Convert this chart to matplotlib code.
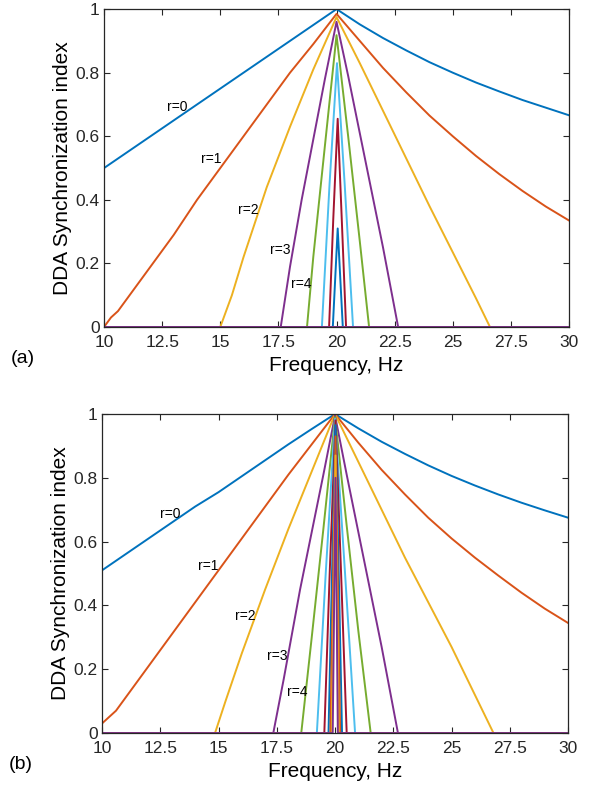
import matplotlib
matplotlib.use("Agg")
import matplotlib.pyplot as plt

plt.rcParams['font.family'] = ['Liberation Sans', 'DejaVu Sans']

# MATLAB default line colours, cycled
COLORS = ['#0072BD', '#D95319', '#EDB120', '#7E2F8E', '#77AC30', '#4DBEEE', '#A2142F']

x_ticks = [10, 12.5, 15, 17.5, 20, 22.5, 25, 27.5, 30]
x_tick_labels = ['10', '12.5', '15', '17.5', '20', '22.5', '25', '27.5', '30']
y_ticks = [0, 0.2, 0.4, 0.6, 0.8, 1]
y_tick_labels = ['0', '0.2', '0.4', '0.6', '0.8', '1']

# ---- panel (a) ----
a_r0_f = [10, 11, 12, 13, 14, 15, 16, 17, 18, 19, 20, 21, 22, 23, 24, 25, 26, 27, 28, 29, 30]
a_r0_y = [0.50, 0.55, 0.60, 0.65, 0.70, 0.75, 0.80, 0.85, 0.90, 0.95, 1.00,
          0.952, 0.909, 0.870, 0.833, 0.800, 0.769, 0.741, 0.714, 0.690, 0.666]
a_r1_f = [10, 10.3, 10.6, 11, 12, 13, 14, 15, 16, 17, 18, 19, 20,
          21, 22, 23, 24, 25, 26, 27, 28, 29, 30]
a_r1_y = [0.0, 0.03, 0.05, 0.09, 0.19, 0.29, 0.40, 0.50, 0.60, 0.70, 0.80, 0.89, 0.985,
          0.90, 0.815, 0.738, 0.665, 0.60, 0.538, 0.481, 0.428, 0.379, 0.335]
a_r2_f = [10, 15.0, 15.5, 16, 17, 18, 19, 20, 21, 22, 23, 24, 25, 26, 26.6, 30]
a_r2_y = [0, 0, 0.10, 0.22, 0.44, 0.63, 0.81, 0.975, 0.83, 0.68, 0.53, 0.38, 0.235, 0.09, 0, 0]
a_r3_f = [10, 17.6, 18, 18.5, 19, 19.5, 20, 20.5, 21, 21.5, 22, 22.65, 30]
a_r3_y = [0, 0, 0.19, 0.40, 0.59, 0.78, 0.96, 0.79, 0.61, 0.43, 0.25, 0, 0]
a_r4_f = [10, 18.73, 19.0, 19.5, 20, 20.5, 21, 21.4, 30]
a_r4_y = [0, 0, 0.22, 0.57, 0.918, 0.60, 0.27, 0, 0]
a_r5_f = [10, 19.37, 19.7, 20.02, 20.35, 20.71, 30]
a_r5_y = [0, 0, 0.45, 0.83, 0.45, 0, 0]
a_r6_f = [10, 19.68, 19.86, 20.05, 20.23, 20.41, 30]
a_r6_y = [0, 0, 0.34, 0.655, 0.33, 0, 0]
a_r7_f = [10, 19.84, 20.05, 20.27, 30]
a_r7_y = [0, 0, 0.31, 0, 0]
a_r8_f = [10, 30]
a_r8_y = [0, 0]
a_r9_f = [10, 30]
a_r9_y = [0, 0]
a_r10_f = [10, 30]
a_r10_y = [0, 0]

# ---- panel (b) ----
b_r0_f = [10, 11, 12, 13, 14, 15, 16, 17, 18, 19, 20, 21, 22, 23, 24, 25, 26, 27, 28, 29, 30]
b_r0_y = [0.51, 0.56, 0.61, 0.66, 0.71, 0.755, 0.805, 0.855, 0.905, 0.953, 1.0,
          0.955, 0.913, 0.875, 0.839, 0.806, 0.776, 0.748, 0.722, 0.698, 0.675]
b_r1_f = [10, 10.3, 10.6, 11, 12, 13, 14, 15, 16, 17, 18, 19, 20,
          21, 22, 23, 24, 25, 26, 27, 28, 29, 30]
b_r1_y = [0.03, 0.05, 0.07, 0.11, 0.21, 0.31, 0.41, 0.51, 0.61, 0.71, 0.81, 0.905, 1.0,
          0.91, 0.825, 0.748, 0.675, 0.61, 0.55, 0.494, 0.44, 0.39, 0.345]
b_r2_f = [10, 14.85, 15.3, 16, 17, 18, 19, 20, 21, 22, 23, 24, 25, 26, 26.8, 30]
b_r2_y = [0, 0, 0.10, 0.25, 0.45, 0.64, 0.82, 1.0, 0.85, 0.70, 0.55, 0.41, 0.27, 0.12, 0, 0]
b_r3_f = [10, 17.35, 17.8, 18.5, 19, 19.5, 20, 20.5, 21, 21.5, 22, 22.7, 30]
b_r3_y = [0, 0, 0.17, 0.45, 0.63, 0.81, 0.995, 0.81, 0.63, 0.45, 0.27, 0, 0]
b_r4_f = [10, 18.55, 19.0, 19.5, 20, 20.5, 21, 21.53, 30]
b_r4_y = [0, 0, 0.30, 0.64, 0.99, 0.65, 0.32, 0, 0]
b_r5_f = [10, 19.22, 19.6, 20.0, 20.43, 20.86, 30]
b_r5_y = [0, 0, 0.5, 0.985, 0.5, 0, 0]
b_r6_f = [10, 19.54, 19.77, 20.02, 20.26, 20.5, 30]
b_r6_y = [0, 0, 0.5, 0.98, 0.5, 0, 0]
b_r7_f = [10, 19.72, 19.87, 20.02, 20.16, 20.3, 30]
b_r7_y = [0, 0, 0.5, 0.965, 0.5, 0, 0]
b_r8_f = [10, 19.8, 20.02, 20.22, 30]
b_r8_y = [0, 0, 0.93, 0, 0]
b_r9_f = [10, 19.86, 20.02, 20.16, 30]
b_r9_y = [0, 0, 0.87, 0, 0]
b_r10_f = [10, 19.9, 20.02, 20.12, 30]
b_r10_y = [0, 0, 0.80, 0, 0]

curves_a = [(a_r0_f, a_r0_y), (a_r1_f, a_r1_y), (a_r2_f, a_r2_y), (a_r3_f, a_r3_y),
            (a_r4_f, a_r4_y), (a_r5_f, a_r5_y), (a_r6_f, a_r6_y), (a_r7_f, a_r7_y),
            (a_r8_f, a_r8_y), (a_r9_f, a_r9_y), (a_r10_f, a_r10_y)]
curves_b = [(b_r0_f, b_r0_y), (b_r1_f, b_r1_y), (b_r2_f, b_r2_y), (b_r3_f, b_r3_y),
            (b_r4_f, b_r4_y), (b_r5_f, b_r5_y), (b_r6_f, b_r6_y), (b_r7_f, b_r7_y),
            (b_r8_f, b_r8_y), (b_r9_f, b_r9_y), (b_r10_f, b_r10_y)]

# label text and where it sits (data coords)
labels = ['r=0', 'r=1', 'r=2', 'r=3', 'r=4']
label_pos_a = [(13.15, 0.693), (14.6, 0.528), (16.19, 0.368), (17.57, 0.242), (18.47, 0.134)]
label_pos_b = [(12.92, 0.687), (14.54, 0.525), (16.14, 0.367), (17.52, 0.241), (18.36, 0.13)]


def panel(ax, curves, label_pos, tag):
    for i, (f, y) in enumerate(curves):
        ax.plot(f, y, color=COLORS[i % 7], linewidth=1.4, solid_joinstyle='round')
    for txt, (x, y) in zip(labels, label_pos):
        ax.text(x, y, txt, fontsize=10, ha='center', va='center', color='black')
    ax.set_xlim(10, 30)
    ax.set_ylim(0, 1)
    ax.set_xticks(x_ticks)
    ax.set_xticklabels(x_tick_labels)
    ax.set_yticks(y_ticks)
    ax.set_yticklabels(y_tick_labels)
    ax.tick_params(direction='in', top=True, right=True, length=4, width=0.8,
                   labelsize=12.5, colors='#262626')
    ax.tick_params(axis='x', pad=6)
    ax.tick_params(axis='y', pad=3)
    for s in ax.spines.values():
        s.set_color('#262626')
        s.set_linewidth(0.9)
    ax.set_xlabel('Frequency, Hz', fontsize=15, labelpad=4)
    ax.set_ylabel('DDA Synchronization index', fontsize=15, labelpad=3)
    ax.text(-0.2, -0.1, tag, transform=ax.transAxes, fontsize=14, ha='left', va='center')


fig = plt.figure(figsize=(5.97, 7.85), dpi=100)
ax1 = fig.add_axes([0.1742, 0.5834, 0.779, 0.405])
ax2 = fig.add_axes([0.1709, 0.0662, 0.7806, 0.4064])

panel(ax1, curves_a, label_pos_a, '(a)')
panel(ax2, curves_b, label_pos_b, '(b)')

fig.savefig('out.png', dpi=100)
